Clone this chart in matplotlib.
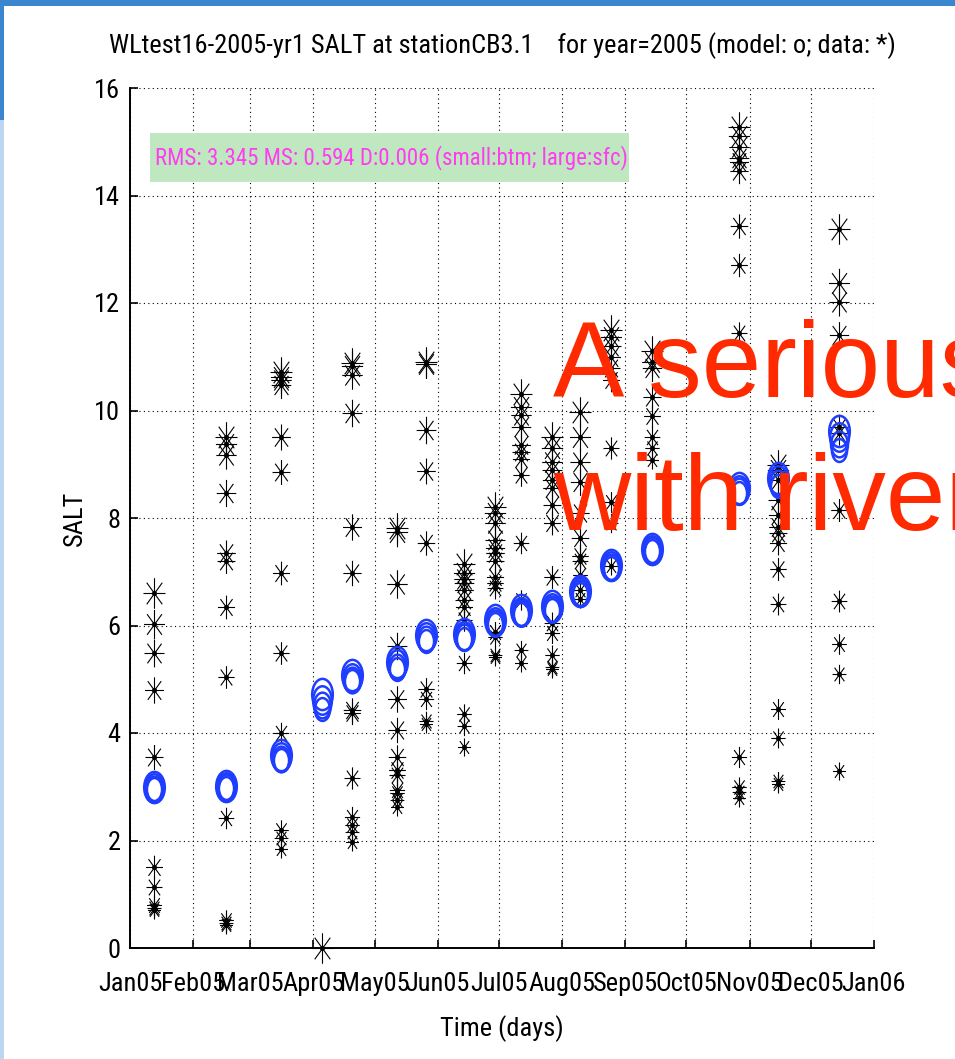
import numpy as np
import matplotlib
matplotlib.use("Agg")
import matplotlib.pyplot as plt
import matplotlib.dates as mdates
from matplotlib.path import Path
from matplotlib.patches import Rectangle
from matplotlib import font_manager

# ---------------- data ----------------
sample_dates = ['2005-01-13', '2005-02-17', '2005-03-16', '2005-04-05', '2005-04-20',
                '2005-05-12', '2005-05-26', '2005-06-14', '2005-06-29', '2005-07-12',
                '2005-07-27', '2005-08-10', '2005-08-25', '2005-09-14', '2005-10-27',
                '2005-11-15', '2005-12-15']

obs_01 = [6.60, 6.03, 5.48, 4.80, 3.55, 1.50, 1.13, 0.80, 0.74, 0.70]
obs_02 = [9.50, 9.37, 9.17, 8.47, 7.35, 7.20, 6.35, 5.05, 2.42, 0.52, 0.47, 0.43]
obs_03 = [10.72, 10.63, 10.57, 10.47, 9.50, 8.85, 6.97, 5.49, 4.00, 2.20, 2.05, 1.84]
obs_04 = [0.0]
obs_05 = [10.88, 10.83, 10.66, 9.95, 7.83, 6.97, 4.43, 4.38, 3.16, 2.44, 2.29, 2.16, 1.98]
obs_06 = [7.81, 7.74, 6.77, 5.62, 4.63, 4.06, 3.56, 3.31, 3.22, 2.94, 2.88, 2.75, 2.62]
obs_07 = [10.90, 10.86, 9.64, 8.87, 7.54, 4.82, 4.63, 4.22, 4.17]
obs_08 = [7.14, 6.97, 6.87, 6.80, 6.66, 6.47, 6.35, 6.10, 5.30, 4.35, 4.13, 3.74]
obs_09 = [8.20, 8.10, 7.90, 7.60, 7.45, 7.35, 7.20, 6.90, 6.80, 6.70, 5.88, 5.79, 5.45, 5.41]
obs_10 = [10.30, 10.07, 9.92, 9.70, 9.36, 9.23, 9.10, 8.80, 7.53, 6.47, 5.54, 5.30]
obs_11 = [9.50, 9.30, 9.05, 8.90, 8.70, 8.55, 8.25, 7.90, 6.90, 6.05, 5.86, 5.45, 5.23, 5.20]
obs_12 = [9.97, 9.50, 9.05, 8.67, 8.10, 7.63, 7.30, 7.20, 6.94, 6.66, 6.50]
obs_13 = [11.50, 11.37, 11.20, 11.00, 10.80, 10.57, 9.30, 8.30, 7.90, 7.10]
obs_14 = [11.10, 10.90, 10.80, 10.25, 9.90, 9.50, 9.30, 9.08]
obs_15 = [15.27, 15.10, 14.90, 14.70, 14.63, 14.45, 13.43, 12.70, 11.45, 3.55, 3.00, 2.90, 2.80]
obs_16 = [8.99, 8.90, 8.70, 8.33, 8.05, 7.83, 7.72, 7.53, 7.05, 6.40, 4.45, 3.90, 3.10, 3.05]
obs_17 = [13.37, 12.37, 12.02, 11.40, 9.70, 9.58, 8.15, 6.45, 5.65, 5.10, 3.30]

model_sfc = [3.00, 3.02, 3.60, 4.72, 5.08, 5.33, 5.82, 5.85, 6.10, 6.28, 6.36, 6.65, 7.12, 7.43, 8.55, 8.75, 9.62]
model_l2  = [2.98, 3.00, 3.56, 4.62, 5.03, 5.28, 5.78, 5.81, 6.07, 6.26, 6.33, 6.62, 7.10, 7.41, 8.52, 8.70, 9.50]
model_l3  = [2.96, 2.99, 3.52, 4.53, 4.99, 5.23, 5.75, 5.78, 6.05, 6.24, 6.31, 6.60, 7.08, 7.40, 8.50, 8.65, 9.38]
model_btm = [2.95, 2.98, 3.50, 4.45, 4.96, 5.19, 5.72, 5.75, 6.03, 6.22, 6.29, 6.58, 7.07, 7.39, 8.47, 8.60, 9.27]

month_ticks = ['2005-%02d-01' % m for m in range(1, 13)] + ['2006-01-01']
y_ticks = [0, 2, 4, 6, 8, 10, 12, 14, 16]

title_text = 'WLtest16-2005-yr1 SALT at stationCB3.1    for year=2005 (model: o; data: *)'
stats_text = 'RMS: 3.345 MS: 0.594 D:0.006 (small:btm; large:sfc)'
overlay_line1 = 'A serious'
overlay_line2 = 'with river'

# ---------------- fonts ----------------
names = {f.name for f in font_manager.fontManager.ttflist}
narrow = 'Liberation Sans'
for cand in ['Liberation Sans Narrow', 'Roboto Condensed', 'Open Sans Condensed', 'Arial Narrow']:
    if cand in names:
        narrow = cand
        break
plt.rcParams['font.family'] = [narrow, 'DejaVu Sans']

# ---------------- markers (horizontally squeezed like the reference) ----------------
SQ = 0.72
ang = np.deg2rad([0, 45, 90, 135])
verts, codes = [], []
for a in ang:
    verts += [(-np.cos(a) * SQ, -np.sin(a)), (np.cos(a) * SQ, np.sin(a))]
    codes += [Path.MOVETO, Path.LINETO]
star_marker = Path(verts, codes)
circ = Path.unit_circle()
oval_marker = Path(circ.vertices * np.array([0.66, 1.0]), circ.codes)

W, H = 955, 1059
fig = plt.figure(figsize=(W / 100, H / 100), dpi=100)
fig.patch.set_facecolor('white')

# slide-like frame
fig.patches.append(Rectangle((0, 1 - 6 / H), 1, 6 / H, transform=fig.transFigure,
                             facecolor='#3b87cf', edgecolor='none', zorder=0))
fig.patches.append(Rectangle((0, 1 - 120 / H), 4 / W, 114 / H, transform=fig.transFigure,
                             facecolor='#3b87cf', edgecolor='none', zorder=0))
fig.patches.append(Rectangle((0, 0), 4 / W, 1 - 120 / H, transform=fig.transFigure,
                             facecolor='#bcd5f0', edgecolor='none', zorder=0))

ax = fig.add_axes([130 / W, 1 - 948 / H, 744 / W, 860 / H])

dates = [mdates.datestr2num(d) for d in sample_dates]
obs_all = [obs_01, obs_02, obs_03, obs_04, obs_05, obs_06, obs_07, obs_08, obs_09,
           obs_10, obs_11, obs_12, obs_13, obs_14, obs_15, obs_16, obs_17]

# observations: asterisks, larger toward the top of each profile
for d, vals in zip(dates, obs_all):
    vals = np.asarray(vals)
    n = len(vals)
    order = np.argsort(np.argsort(vals))
    for v, r in zip(vals, order):
        s = 13 + 9 * (r / (n - 1) if n > 1 else 1.0)
        ax.plot([d], [v], linestyle='none', marker=star_marker, markersize=s,
                markeredgecolor='black', markeredgewidth=0.8, zorder=3, clip_on=False)
    ax.plot([d] * n, vals, linestyle='none', marker='o', markersize=2.6,
            color='black', zorder=4, clip_on=False)

# model: concentric rings, large = surface, small = bottom
for layer, s in zip([model_sfc, model_l2, model_l3, model_btm], [22.5, 20.5, 18.5, 16.5]):
    ax.plot(dates, layer, linestyle='none', marker=oval_marker, markersize=s,
            markerfacecolor='none', markeredgecolor='#1f3dff', markeredgewidth=1.8, zorder=5)

ax.set_xlim(mdates.datestr2num('2005-01-01'), mdates.datestr2num('2006-01-01'))
ax.set_ylim(0, 16)
ax.set_xticks([mdates.datestr2num(t) for t in month_ticks])
ax.xaxis.set_major_formatter(mdates.DateFormatter('%b%y'))
ax.set_yticks(y_ticks)

ax.grid(True, color='black', linestyle=(0, (1, 3)), linewidth=0.8)
ax.set_axisbelow(True)
for sp in ['top', 'right']:
    ax.spines[sp].set_visible(False)
for sp in ['left', 'bottom']:
    ax.spines[sp].set_linewidth(1.4)
ax.tick_params(direction='in', length=6, width=1.2, labelsize=19, pad=7)
ax.tick_params(axis='x', pad=17)

ax.set_xlabel('Time (days)', fontsize=19, labelpad=14)
ax.set_ylabel('SALT', fontsize=19, labelpad=5)

fig.text(502 / W, 1 - 46 / H, title_text, ha='center', va='center', fontsize=19)

# statistics box
fig.patches.append(Rectangle((150 / W, 1 - 182 / H), 479 / W, 49 / H, transform=fig.transFigure,
                             facecolor='#bfe8c1', edgecolor='none', zorder=1))
fig.text(155 / W, 1 - 158 / H, stats_text, ha='left', va='center', fontsize=16.5,
         color='#ff3cf0', zorder=2)

fig.text(553 / W, 1 - 397 / H, overlay_line1, ha='left', va='baseline', fontsize=77,
         color='#ff2a00', family=['Liberation Sans', 'DejaVu Sans'], zorder=10)
fig.text(553 / W, 1 - 530 / H, overlay_line2, ha='left', va='baseline', fontsize=77,
         color='#ff2a00', family=['Liberation Sans', 'DejaVu Sans'], zorder=10)

fig.savefig('out.png', dpi=100, facecolor='white')
